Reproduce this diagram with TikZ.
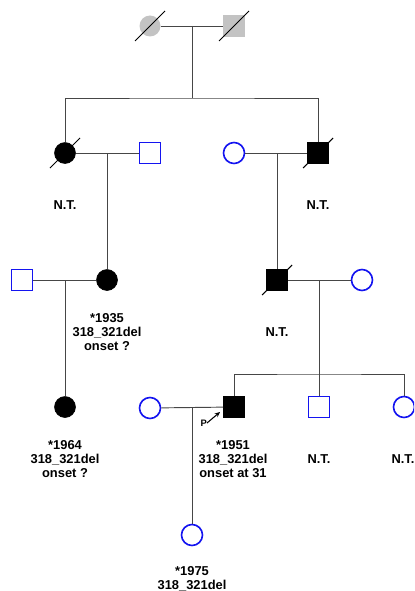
\documentclass[tikz,border=0pt]{standalone}
\usepackage{fontspec}
\setsansfont{Liberation Sans}
\usepackage{tikz}
\usetikzlibrary{arrows.meta,calc}
\definecolor{kinblue}{RGB}{20,20,240}
\definecolor{kingrey}{RGB}{195,195,195}
\definecolor{linegrey}{RGB}{70,70,70}
\tikzset{
  base/.style={font=\sffamily\bfseries\fontsize{11}{11.9}\selectfont, align=center, inner sep=0pt, text=black},
  fem/.style={circle, minimum size=0.63cm, inner sep=0pt},
  mal/.style={rectangle, minimum size=0.64cm, inner sep=0pt},
  well/.style={draw=kinblue, line width=1.4pt, fill=white},
  ill/.style={draw=black, line width=0.5pt, fill=black},
  unk/.style={fill=kingrey},
  kin/.style={draw=linegrey, line width=0.8pt},
  dead/.style={draw=black, line width=0.9pt},
  lbl/.style={base},
}
\newcommand{\deceased}[1]{\draw[dead] ($(#1)+(-15,15)$) -- ($(#1)+(15,-15)$);}

\begin{document}
\begin{tikzpicture}[x=0.03cm,y=-0.03cm]
  \clip (0,0) rectangle (414,591);
  % generation I
  \node[fem,unk] (gma) at (150,26) {};
  \node[mal,unk] (gpa) at (234,26) {};
  % generation II
  \node[fem,ill] (aunt) at (65,153) {};
  \node[mal,well] (aunthusb) at (150,153) {};
  \node[fem,well] (mwife) at (234,153) {};
  \node[mal,ill] (uncle) at (318,153) {};
  % generation III
  \node[mal,well] (cousinhusb) at (22,280) {};
  \node[fem,ill] (cousin) at (107,280) {};
  \node[mal,ill] (father) at (277,280) {};
  \node[fem,well] (mother) at (362,280) {};
  % generation IV
  \node[fem,ill] (second) at (65,407) {};
  \node[fem,well] (spouse) at (150,408) {};
  \node[mal,ill] (proband) at (234,407) {};
  \node[mal,well] (bro) at (319,407) {};
  \node[fem,well] (sis) at (404,407) {};
  % generation V
  \node[fem,well] (dau) at (192,535) {};
  % couples and lines of descent
  \coordinate (m1) at (192,26);  \coordinate (s1) at (192,98);
  \coordinate (m2) at (107,153);
  \coordinate (m3) at (277,153);
  \coordinate (m4) at (65,280);
  \coordinate (m5) at (319,280); \coordinate (s5) at (319,374);
  \coordinate (m6) at (192,408);
  \draw[kin] (gma) -- (gpa);
  \draw[kin] (m1) -- (s1);
  \draw[kin] (aunt) |- (s1) -| (uncle);
  \draw[kin] (aunt) -- (aunthusb);
  \draw[kin] (mwife) -- (uncle);
  \draw[kin] (m2) -- (cousin);
  \draw[kin] (m3) -- (father);
  \draw[kin] (cousinhusb) -- (cousin);
  \draw[kin] (father) -- (mother);
  \draw[kin] (m4) -- (second);
  \draw[kin] (m5) -- (s5);
  \draw[kin] (proband) |- (s5) -| (sis);
  \draw[kin] (s5) -- (bro);
  \draw[kin] (spouse) -- (proband);
  \draw[kin] (m6) -- (dau);
  % deceased
  \foreach \p in {gma,gpa,aunt,uncle,father}{\deceased{\p}}
  % proband arrow
  \coordinate (ptail) at (207,423);
  \coordinate (phead) at (220,412);
  \draw[-{Stealth[length=1.6mm,width=1.4mm]}, line width=0.9pt] (ptail) -- (phead);
  \node[base, font=\sffamily\bfseries\fontsize{8}{9}\selectfont, anchor=east] (plbl) at (ptail) {P};
  % labels
  \node[lbl] (nt1) at (65,205) {N.T.};
  \node[lbl] (nt2) at (318,205) {N.T.};
  \node[lbl] (nt3) at (277,332) {N.T.};
  \node[lbl] (nt4) at (319,459) {N.T.};
  \node[lbl] (nt5) at (403,459) {N.T.};
  \node[lbl] (info1) at (107,332) {*1935\\318\_321del\\onset ?};
  \node[lbl] (info2) at (65,459) {*1964\\318\_321del\\onset ?};
  \node[lbl] (info3) at (233,459) {*1951\\318\_321del\\onset at 31};
  \node[lbl, anchor=north] (info4) at (192,566) {*1975\\318\_321del};
\end{tikzpicture}
\end{document}
